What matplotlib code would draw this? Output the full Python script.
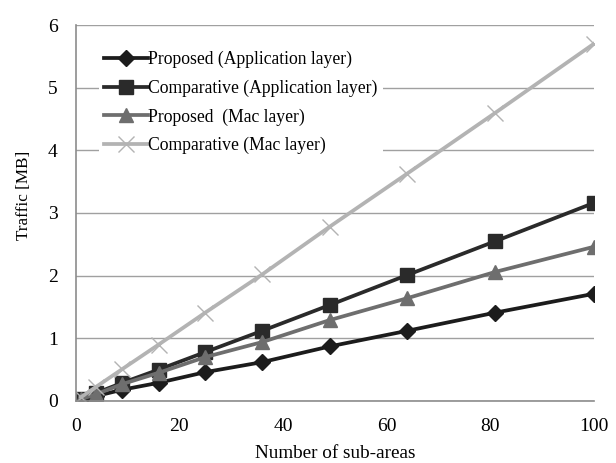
import matplotlib.pyplot as plt

# --------------------------------------------------
# Data
# --------------------------------------------------
n_areas = [1, 4, 9, 16, 25, 36, 49, 64, 81, 100]

prop_app = [0.02, 0.08, 0.18, 0.29, 0.46, 0.62, 0.87, 1.12, 1.41, 1.71]
comp_app = [0.03, 0.13, 0.29, 0.50, 0.78, 1.12, 1.53, 2.01, 2.55, 3.16]
prop_mac = [0.03, 0.11, 0.27, 0.45, 0.70, 0.94, 1.29, 1.64, 2.06, 2.46]
comp_mac = [0.06, 0.23, 0.51, 0.90, 1.41, 2.02, 2.78, 3.63, 4.60, 5.70]

labels = [
    "Proposed (Application layer)",
    "Comparative (Application layer)",
    "Proposed  (Mac layer)",
    "Comparative (Mac layer)",
]

plt.rcParams["font.family"] = ["Liberation Serif", "DejaVu Serif"]

fig = plt.figure(figsize=(6.16, 4.63), dpi=100)
ax = fig.add_axes([0.123, 0.134, 0.841, 0.812])

lw = 2.7
ax.plot(n_areas, prop_app, color="#1c1c1c", lw=lw, marker="D", ms=8, label=labels[0])
ax.plot(n_areas, comp_app, color="#2a2a2a", lw=lw, marker="s", ms=9.5, label=labels[1])
ax.plot(n_areas, prop_mac, color="#6e6e6e", lw=lw, marker="^", ms=10.5, label=labels[2])
ax.plot(n_areas, comp_mac, color="#b3b3b3", lw=lw, marker="x", ms=11, mew=1.0, label=labels[3])

ax.set_xlim(0, 100)
ax.set_ylim(0, 6)
ax.set_xticks(range(0, 101, 20))
ax.set_yticks(range(0, 7))
ax.grid(axis="y", color="#a0a0a0", lw=1)
ax.set_axisbelow(True)

for s in ["top", "right"]:
    ax.spines[s].set_visible(False)
for s in ["left", "bottom"]:
    ax.spines[s].set_color("#8c8c8c")
    ax.spines[s].set_linewidth(1.2)
ax.tick_params(axis="y", length=0, pad=13, labelsize=14)
ax.tick_params(axis="x", length=0, pad=12, labelsize=14)

ax.set_xlabel("Number of sub-areas", fontsize=13.8)
ax.set_ylabel("Traffic [MB]", fontsize=12.3)
ax.xaxis.label.set_va("center")
ax.yaxis.label.set_va("center")
ax.xaxis.set_label_coords(0.5, -0.14)
ax.yaxis.set_label_coords(-0.100, 0.548)

leg = ax.legend(loc="upper left", bbox_to_anchor=(0.028, 0.969), frameon=True,
                handlelength=2.5, handletextpad=0.0, labelspacing=0.65,
                borderpad=0.3, fontsize=12.7)
leg.get_frame().set_facecolor("white")
leg.get_frame().set_edgecolor("none")
leg.get_frame().set_alpha(1)

fig.savefig("out.png", dpi=100)
